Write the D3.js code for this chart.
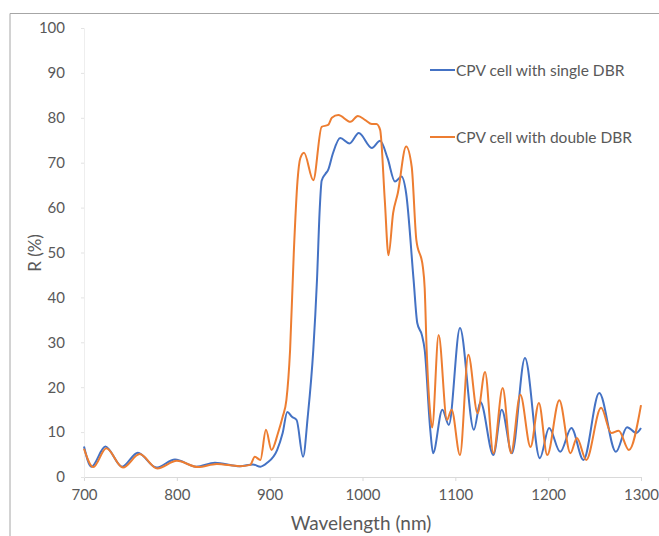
<!DOCTYPE html>
<html>
<head>
<meta charset="utf-8">
<script src="https://cdn.jsdelivr.net/npm/d3@7"></script>
<style>
  body { margin: 0; background: #fff; }
  text { font-family: Lato, "Open Sans", sans-serif; fill: #595959; }
</style>
</head>
<body>
<div id="chart"></div>
<script>
// wavelength (nm) / reflectance (%)
const singleNm = [700, 708, 723, 741, 758, 778, 798, 821, 841, 868, 882, 890, 897, 908, 914, 919, 924, 929, 936, 941, 947, 951, 954, 956, 960, 963, 968, 976, 986, 996, 1010, 1019, 1027, 1035, 1042, 1047, 1055, 1059, 1064, 1067, 1073, 1076, 1086, 1093, 1105, 1120, 1127, 1141, 1150, 1161, 1175, 1191, 1201, 1213, 1225, 1238, 1255, 1273, 1285, 1295, 1300];
const singleR = [6.8, 2.3, 6.8, 2.3, 5.4, 2.1, 3.9, 2.3, 3.2, 2.4, 2.8, 2.3, 3.1, 6, 9.8, 14.5, 13.4, 12.7, 4.5, 13.4, 28.3, 44, 60, 66, 67.5, 68.4, 72, 75.5, 74.3, 76.6, 73.3, 74.9, 71, 65.8, 66.9, 63.2, 44, 34.3, 31.6, 28.3, 10.5, 5.3, 15, 11.6, 33.2, 10.5, 16.7, 4.9, 15, 5.3, 26.5, 4.2, 10.9, 5.6, 10.9, 3.8, 18.7, 5.6, 11.1, 9.8, 10.9];

const doubleNm = [700, 710, 724, 742, 760, 779, 800, 823, 843, 868, 879, 884, 890, 896, 902, 909, 914, 918, 922, 926, 930, 933, 937, 947, 956, 963, 967, 974, 987, 995, 1003, 1010, 1015, 1019, 1024, 1028, 1033, 1038, 1047, 1053, 1058, 1065, 1067, 1069, 1073, 1075, 1082, 1091, 1096, 1105, 1114, 1124, 1132, 1141, 1151, 1160, 1170, 1181, 1190, 1199, 1212, 1224, 1231, 1241, 1257, 1268, 1276, 1287, 1300];
const doubleR = [6.3, 2.2, 6.4, 2.1, 5.1, 1.9, 3.6, 2.2, 2.9, 2.4, 2.7, 4.5, 3.8, 10.5, 6, 9.8, 13.4, 17.1, 28.3, 50, 66, 71, 72.2, 66.1, 78, 78.4, 80, 80.6, 79.1, 80.4, 79.5, 78.6, 78.6, 77.3, 61.7, 49.4, 58.8, 63.2, 73.6, 69.1, 52.8, 46.8, 42, 29, 14, 11, 31.6, 12.7, 15, 4.9, 27.2, 14.2, 23.4, 5.3, 19.8, 5.3, 18.3, 6.7, 16.5, 4.9, 17.1, 5.3, 8.7, 3.8, 15.4, 9.8, 10.3, 6, 16];

const seriesNames = ["CPV cell with single DBR", "CPV cell with double DBR"];
const seriesColors = ["#4472C4", "#ED7D31"];
const xTicks = [700, 800, 900, 1000, 1100, 1200, 1300];
const yTicks = [0, 10, 20, 30, 40, 50, 60, 70, 80, 90, 100];

function init() {
    const width = 659;
    const height = 536;
    const margin = { top: 28, right: 18, bottom: 59, left: 84 };

    const x = d3.scaleLinear().domain([700, 1300]).range([margin.left, width - margin.right]);
    const y = d3.scaleLinear().domain([0, 100]).range([height - margin.bottom, margin.top]);

    const svg = d3.select("#chart")
        .append("svg")
        .attr("width", width)
        .attr("height", height);

    // outer frame (only top and left visible in the picture)
    svg.append("path")
        .attr("d", `M10,${height}V13.5H${width}`)
        .attr("fill", "none")
        .attr("stroke", "#a6a6a6")
        .attr("stroke-width", 1);

    // x axis
    const xAxis = svg.append("g")
        .attr("transform", `translate(0,${y(0)})`)
        .call(d3.axisBottom(x).tickValues(xTicks).tickFormat(d3.format("d")).tickSize(4).tickPadding(8));
    xAxis.select(".domain").attr("stroke", "#d9d9d9");
    xAxis.selectAll(".tick line").attr("stroke", "#d9d9d9");
    xAxis.selectAll("text").style("font-size", "15px").attr("fill", "#595959");

    // y axis
    const yAxis = svg.append("g")
        .attr("transform", `translate(${margin.left},0)`)
        .call(d3.axisLeft(y).tickValues(yTicks).tickSize(3).tickPadding(16));
    yAxis.select(".domain").attr("stroke", "#eeeeee");
    yAxis.selectAll(".tick line").attr("stroke", "#e3e3e3");
    yAxis.selectAll("text").style("font-size", "15px").attr("fill", "#595959");

    // axis titles
    svg.append("text")
        .attr("text-anchor", "middle")
        .attr("x", 361)
        .attr("y", 530)
        .style("font-size", "19px")
        .text("Wavelength (nm)");

    svg.append("text")
        .attr("text-anchor", "middle")
        .attr("transform", "rotate(-90)")
        .attr("x", -253)
        .attr("y", 41)
        .style("font-size", "17px")
        .text("R (%)");

    // lines
    const line = d3.line()
        .x(d => x(d[0]))
        .y(d => y(d[1]))
        .curve(d3.curveMonotoneX);

    const series = [
        d3.zip(singleNm, singleR),
        d3.zip(doubleNm, doubleR)
    ];

    // draw single first, double on top
    series.forEach((pts, i) => {
        svg.append("path")
            .datum(pts)
            .attr("fill", "none")
            .attr("stroke", seriesColors[i])
            .attr("stroke-width", 2)
            .attr("stroke-linejoin", "round")
            .attr("d", line);
    });

    // legend
    const legendY = [70, 137];
    seriesNames.forEach((name, i) => {
        svg.append("line")
            .attr("x1", 430)
            .attr("x2", 455)
            .attr("y1", legendY[i])
            .attr("y2", legendY[i])
            .attr("stroke", seriesColors[i])
            .attr("stroke-width", 2);

        svg.append("text")
            .attr("x", 456)
            .attr("y", legendY[i] + 5.5)
            .style("font-size", "15.5px")
            .text(name);
    });
}

window.onload = init;
</script>
</body>
</html>
